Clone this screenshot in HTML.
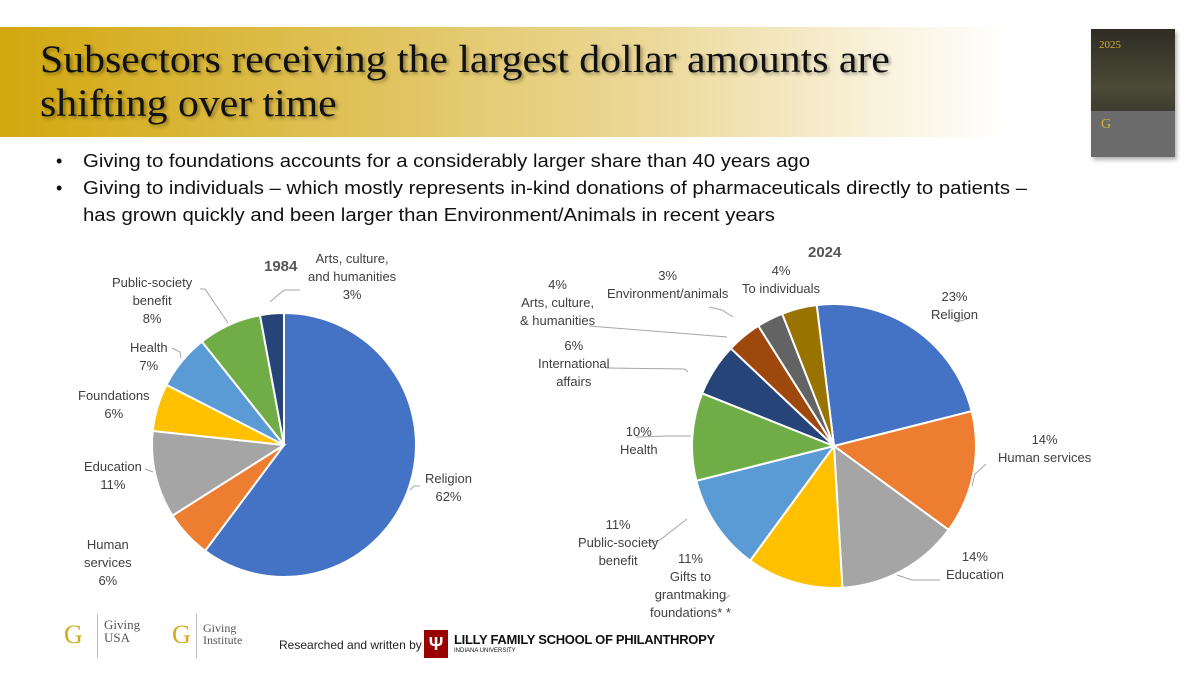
<!DOCTYPE html>
<html><head><meta charset="utf-8"><style>
body{margin:0;width:1200px;height:674px;overflow:hidden;background:#fff;font-family:"Liberation Sans",sans-serif;position:relative}
.banner{position:absolute;left:0;top:27px;width:1010px;height:110px;background:linear-gradient(90deg,#d2a80e 0%,#dfc158 35%,#ecd99a 65%,#fbf5e4 90%,#fff 100%)}
.title{position:absolute;left:40px;top:38px;font-family:"Liberation Serif",serif;font-size:39px;line-height:44px;color:#111;text-shadow:2px 2px 3px rgba(0,0,0,.35);white-space:nowrap;transform:scaleX(1.07);transform-origin:left}
.bul{position:absolute;left:56px;font-size:18px;color:#111;line-height:27px}
.bul span{position:absolute;left:0}
.bul div{transform:scaleX(1.13);transform-origin:left;white-space:nowrap}
.lbl{position:absolute;font-size:13px;color:#404040;text-align:center;line-height:18px;white-space:nowrap}
.yr{position:absolute;font-size:15px;font-weight:bold;color:#555}
</style></head><body>
<div class="banner"></div>
<div class="title">Subsectors receiving the largest dollar amounts are<br>shifting over time</div>
<div style="position:absolute;left:1091px;top:29px;width:84px;height:128px;background:linear-gradient(#2e2c24,#4a4a36 45%,#3a3a30 70%);box-shadow:2px 3px 4px rgba(0,0,0,.3)">
<div style="position:absolute;left:0;top:82px;width:84px;height:46px;background:#6b6b6b"></div>
<div style="position:absolute;left:8px;top:10px;font-family:'Liberation Serif',serif;font-size:11px;color:#d9b230">2025</div>
<div style="position:absolute;left:10px;top:88px;font-family:'Liberation Serif',serif;font-size:14px;color:#d9b230">G</div>
</div>
<div class="bul" style="top:148px"><span>•</span><div style="margin-left:27px">Giving to foundations accounts for a considerably larger share than 40 years ago</div></div>
<div class="bul" style="top:175px"><span>•</span><div style="margin-left:27px">Giving to individuals – which mostly represents in-kind donations of pharmaceuticals directly to patients –<br>has grown quickly and been larger than Environment/Animals in recent years</div></div>

<svg id="charts" width="1200" height="674" style="position:absolute;left:0;top:0">
<g id="leaders" fill="none" stroke="#a6a6a6" stroke-width="1">
<polyline points="270,302 284,290 300,290"/>
<polyline points="200,289 205,289 228,323"/>
<polyline points="172,348 180,352 181,358"/>
<polyline points="145,469 153,472"/>
<polyline points="410,490 414,486 420,486"/>
<polyline points="957,322 970,318"/>
<polyline points="986,464 975,474 972,486"/>
<polyline points="897,575 912,580 940,580"/>
<polyline points="730,595 721,602"/>
<polyline points="648,543 660,540 687,519"/>
<polyline points="636,437 667,436 691,436"/>
<polyline points="606,368 685,369 688,372"/>
<polyline points="589,326 727,337"/>
<polyline points="709,307 722,310 733,317"/>
</g>
</svg>
<div class="yr" style="left:264px;top:258px">1984</div>
<div class="yr" style="left:808px;top:244px">2024</div>

<div class="lbl" style="left:308px;top:250px">Arts, culture,<br>and humanities<br>3%</div>
<div class="lbl" style="left:112px;top:274px">Public-society<br>benefit<br>8%</div>
<div class="lbl" style="left:130px;top:339px">Health<br>7%</div>
<div class="lbl" style="left:78px;top:387px">Foundations<br>6%</div>
<div class="lbl" style="left:84px;top:458px">Education<br>11%</div>
<div class="lbl" style="left:84px;top:536px">Human<br>services<br>6%</div>
<div class="lbl" style="left:425px;top:470px">Religion<br>62%</div>

<div class="lbl" style="left:931px;top:288px">23%<br>Religion</div>
<div class="lbl" style="left:998px;top:431px">14%<br>Human services</div>
<div class="lbl" style="left:946px;top:548px">14%<br>Education</div>
<div class="lbl" style="left:650px;top:550px">11%<br>Gifts to<br>grantmaking<br>foundations* *</div>
<div class="lbl" style="left:578px;top:516px">11%<br>Public-society<br>benefit</div>
<div class="lbl" style="left:620px;top:423px">10%<br>Health</div>
<div class="lbl" style="left:538px;top:337px">6%<br>International<br>affairs</div>
<div class="lbl" style="left:520px;top:276px">4%<br>Arts, culture,<br>&amp; humanities</div>
<div class="lbl" style="left:607px;top:267px">3%<br>Environment/animals</div>
<div class="lbl" style="left:742px;top:262px">4%<br>To individuals</div>

<div style="position:absolute;left:0;top:612px;width:720px;height:50px">
<div style="position:absolute;left:64px;top:8px;font-family:'Liberation Serif',serif;font-size:26px;color:#d4a91c">G</div>
<div style="position:absolute;left:97px;top:2px;width:1px;height:44px;background:#bbb"></div>
<div style="position:absolute;left:104px;top:6px;font-family:'Liberation Serif',serif;font-size:13px;line-height:13px;color:#555">Giving<br>USA</div>
<div style="position:absolute;left:172px;top:8px;font-family:'Liberation Serif',serif;font-size:26px;color:#d4a91c">G</div>
<div style="position:absolute;left:196px;top:2px;width:1px;height:44px;background:#bbb"></div>
<div style="position:absolute;left:203px;top:10px;font-family:'Liberation Serif',serif;font-size:12px;line-height:12px;color:#555">Giving<br>Institute</div>
<div style="position:absolute;left:279px;top:26px;font-size:12px;color:#222">Researched and written by</div>
<div style="position:absolute;left:424px;top:18px;width:24px;height:28px;background:#990000;color:#fff;font-weight:bold;text-align:center;font-size:18px;line-height:28px">Ψ</div>
<div style="position:absolute;left:454px;top:20px;font-size:13px;font-weight:bold;color:#111;letter-spacing:-.3px">LILLY FAMILY SCHOOL OF PHILANTHROPY</div>
<div style="position:absolute;left:454px;top:36px;font-size:6px;color:#111">INDIANA UNIVERSITY</div>
</div>

<script>
const cats1984=["Religion","Human services","Education","Foundations","Health","Public-society benefit","Arts, culture, and humanities"];
const vals1984=[62,6,11,6,7,8,3];
const colors1984=["#4472c4","#ed7d31","#a5a5a5","#ffc000","#5b9bd5","#70ad47","#264478"];
const cats2024=["Religion","Human services","Education","Gifts to grantmaking foundations","Public-society benefit","Health","International affairs","Arts, culture, & humanities","Environment/animals","To individuals"];
const vals2024=[23,14,14,11,11,10,6,4,3,4];
const colors2024=["#4472c4","#ed7d31","#a5a5a5","#ffc000","#5b9bd5","#70ad47","#264478","#9e480e","#636363","#997300"];
const svg=document.getElementById('charts');
function pie(cats,vals,colors,cx,cy,r,start,id){
  const tot=vals.reduce((a,b)=>a+b,0);
  let a=start*Math.PI/180;
  const g=document.createElementNS('http://www.w3.org/2000/svg','g');
  
  
  svg.insertBefore(g,svg.firstChild);
  vals.forEach((v,i)=>{
    const a2=a+v/tot*2*Math.PI;
    const x1=cx+r*Math.sin(a),y1=cy-r*Math.cos(a),x2=cx+r*Math.sin(a2),y2=cy-r*Math.cos(a2);
    const p=document.createElementNS('http://www.w3.org/2000/svg','path');
    p.setAttribute('d',`M${cx},${cy}L${x1},${y1}A${r},${r} 0 ${a2-a>Math.PI?1:0} 1 ${x2},${y2}Z`);
    p.setAttribute('fill',colors[i]);p.setAttribute('stroke','#fff');p.setAttribute('stroke-width','2');
    
    
    g.appendChild(p);a=a2;
  });
}
pie(cats1984,vals1984,colors1984,284,445,132,0,'1984');
pie(cats2024,vals2024,colors2024,834,446,142,-7,'2024');
</script>
</body></html>
